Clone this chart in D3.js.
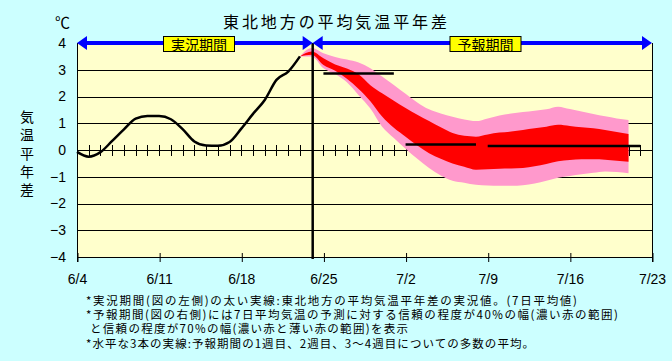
<!DOCTYPE html>
<html lang="ja">
<head>
<meta charset="UTF-8">
<title>東北地方の平均気温平年差</title>
<script src="https://d3js.org/d3.v7.min.js"></script>
<style>
  body { margin: 0; background: #ccffff; }
  text { font-family: "Noto Sans CJK JP", "Noto Sans", sans-serif; fill: #000; }
</style>
</head>
<body>
<svg id="chart" width="672" height="361"></svg>
<script>
// x: day index from 6/4 (0) to 7/23 (49)
const tickLabels = ["6/4", "6/11", "6/18", "6/25", "7/2", "7/9", "7/16", "7/23"];
const yTicks = [4, 3, 2, 1, 0, -1, -2, -3, -4];

// observed 7-day mean anomaly, 6/4 .. 6/23
const obsStart = 0;
const observed = [-0.07, -0.25, -0.08, 0.34, 0.77, 1.17, 1.27, 1.27, 1.15, 0.78,
  0.32, 0.17, 0.16, 0.3, 0.8, 1.35, 1.87, 2.62, 2.93, 3.5];

// forecast ranges, 6/23 .. 7/21
const bandStart = 19;
const hi70 = [3.5, 3.81, 3.62, 3.48, 3.38, 3.27, 3.06, 2.75, 2.43, 2.1, 1.78, 1.52, 1.36, 1.24, 1.14,
  1.08, 1.18, 1.29, 1.36, 1.42, 1.47, 1.52, 1.62, 1.53, 1.44, 1.35, 1.26, 1.18, 1.12];
const hi40 = [3.5, 3.68, 3.43, 3.2, 3.05, 2.83, 2.42, 2.12, 1.84, 1.57, 1.32, 1.08, 0.85, 0.64, 0.53,
  0.5, 0.58, 0.65, 0.69, 0.75, 0.81, 0.87, 0.94, 0.9, 0.85, 0.81, 0.75, 0.67, 0.6];
const lo40 = [3.5, 3.56, 3.18, 2.96, 2.66, 2.28, 1.82, 1.25, 0.83, 0.5, 0.17, -0.12, -0.33, -0.5, -0.63,
  -0.74, -0.72, -0.7, -0.69, -0.67, -0.61, -0.52, -0.42, -0.37, -0.35, -0.35, -0.36, -0.4, -0.44];
const lo70 = [3.5, 3.5, 3.06, 2.84, 2.53, 2.05, 1.55, 0.87, 0.45, 0.05, -0.33, -0.67, -0.95, -1.15, -1.22,
  -1.3, -1.33, -1.34, -1.34, -1.32, -1.25, -1.15, -1.04, -0.97, -0.91, -0.85, -0.8, -0.82, -0.87];

// ensemble means: week 1, week 2, weeks 3-4
const meanFrom = [21, 28, 35];
const meanTo = [27, 34, 48];
const meanVal = [2.86, 0.21, 0.15];

const splitDay = 20;
const periodLabels = ["実況期間", "予報期間"];
const notes = [
  "*実況期間(図の左側)の太い実線:東北地方の平均気温平年差の実況値。(7日平均値)",
  "*予報期間(図の右側)には7日平均気温の予測に対する信頼の程度が40%の幅(濃い赤の範囲)",
  "と信頼の程度が70%の幅(濃い赤と薄い赤の範囲)を表示",
  "*水平な3本の実線:予報期間の1週目、2週目、3～4週目についての多数の平均。"
];

const svg = d3.select("#chart");
const x = d3.scaleLinear().domain([0, 49]).range([77, 652]);
const y = d3.scaleLinear().domain([-4, 4]).range([257, 43]);

// plot background
svg.append("rect")
  .attr("x", x(0)).attr("y", y(4))
  .attr("width", x(49) - x(0)).attr("height", y(-4) - y(4))
  .attr("fill", "#ffffcc");

// horizontal grid
svg.append("g").selectAll("line")
  .data(yTicks.filter(d => d !== 4))
  .join("line")
  .attr("x1", x(0)).attr("x2", x(49))
  .attr("y1", d => Math.round(y(d)) + 0.5).attr("y2", d => Math.round(y(d)) + 0.5)
  .attr("stroke", "#000").attr("stroke-width", 1);

// daily ticks across zero line
svg.append("g").selectAll("line")
  .data(d3.range(1, 49))
  .join("line")
  .attr("x1", d => Math.round(x(d)) + 0.5).attr("x2", d => Math.round(x(d)) + 0.5)
  .attr("y1", y(0) - 5).attr("y2", y(0) + 6)
  .attr("stroke", "#000");

// bottom weekly ticks
const xAxis = svg.append("g")
  .attr("transform", `translate(0,${Math.round(y(-4)) - 4})`)
  .call(d3.axisBottom(x).tickValues(d3.range(0, 50, 7)).tickSize(9).tickFormat((d, i) => tickLabels[i]));
xAxis.select(".domain").remove();
xAxis.selectAll("line").attr("stroke", "#000").attr("transform", "translate(0.5,0)");
xAxis.selectAll("text")
  .attr("y", 31).attr("dy", 0)
  .style("font-size", "14px").style("font-family", "'Liberation Sans', sans-serif")
  .attr("fill", "#000");

// frame lines left/right
svg.append("line").attr("x1", x(0) + 0.5).attr("x2", x(0) + 0.5)
  .attr("y1", y(4)).attr("y2", y(-4) + 5).attr("stroke", "#000");
svg.append("line").attr("x1", x(49) + 0.5).attr("x2", x(49) + 0.5)
  .attr("y1", y(4)).attr("y2", y(-4) + 5).attr("stroke", "#000");

// y labels
const yAxis = svg.append("g")
  .attr("transform", `translate(${x(0)},0)`)
  .call(d3.axisLeft(y).tickValues(yTicks).tickSize(0).tickPadding(11)
    .tickFormat(d => d < 0 ? "\u2212" + Math.abs(d) : d));
yAxis.select(".domain").remove();
yAxis.selectAll("text")
  .style("font-size", "14px").style("font-family", "'Liberation Sans', sans-serif")
  .attr("fill", "#000");

// forecast bands
const bandDays = d3.range(bandStart, bandStart + hi70.length);
const area = (hi, lo) => d3.area()
  .x((d, i) => x(bandDays[i]))
  .y0((d, i) => y(lo[i]))
  .y1((d, i) => y(hi[i]))
  .curve(d3.curveMonotoneX);
svg.append("path").datum(hi70).attr("d", area(hi70, lo70)).attr("fill", "#ff99cc");
svg.append("path").datum(hi40).attr("d", area(hi40, lo40)).attr("fill", "#ff0000");

// observed line
svg.append("path")
  .datum(observed)
  .attr("d", d3.line().x((d, i) => x(obsStart + i)).y(d => y(d)).curve(d3.curveMonotoneX))
  .attr("fill", "none").attr("stroke", "#000").attr("stroke-width", 2.5);

// split line
svg.append("line")
  .attr("x1", x(splitDay) + 1).attr("x2", x(splitDay) + 1)
  .attr("y1", y(4)).attr("y2", y(-4) + 2)
  .attr("stroke", "#000").attr("stroke-width", 2.5);

// mean lines
svg.append("g").selectAll("line")
  .data(meanVal)
  .join("line")
  .attr("x1", (d, i) => x(meanFrom[i])).attr("x2", (d, i) => x(meanTo[i]))
  .attr("y1", d => y(d)).attr("y2", d => y(d))
  .attr("stroke", "#000").attr("stroke-width", 2.5);

// blue period arrows
const ay = y(4);
const blue = "#0000ff";
function arrow(x0, x1) {
  svg.append("line").attr("x1", x0 + 8).attr("x2", x1 - 8)
    .attr("y1", ay).attr("y2", ay).attr("stroke", blue).attr("stroke-width", 4);
  svg.append("path").attr("d", `M${x0},${ay}L${x0 + 10},${ay - 7}L${x0 + 10},${ay + 7}Z`).attr("fill", blue);
  svg.append("path").attr("d", `M${x1},${ay}L${x1 - 10},${ay - 7}L${x1 - 10},${ay + 7}Z`).attr("fill", blue);
}
const sx = x(splitDay) + 1;
arrow(x(0), sx);
arrow(sx, x(49));

// period labels
const labelCenters = [199, 485.5];
periodLabels.forEach((t, i) => {
  svg.append("rect")
    .attr("x", labelCenters[i] - 35.5).attr("y", 36.5)
    .attr("width", 71).attr("height", 15)
    .attr("fill", "#ffff00").attr("stroke", "#000");
  svg.append("text")
    .attr("x", labelCenters[i]).attr("y", 49.5)
    .attr("text-anchor", "middle")
    .style("font-size", "14px")
    .text(t);
});

// title and units
svg.append("text")
  .attr("x", 223).attr("y", 28)
  .attr("textLength", 224).attr("lengthAdjust", "spacing")
  .style("font-size", "16px").attr("fill", "#222")
  .text("東北地方の平均気温平年差");
svg.append("text")
  .attr("x", 55).attr("y", 28)
  .style("font-size", "15px")
  .text("℃");

// vertical y title
svg.append("g").selectAll("text")
  .data(Array.from("気温平年差"))
  .join("text")
  .attr("x", 27).attr("y", (d, i) => 122 + i * 18.3)
  .attr("text-anchor", "middle")
  .style("font-size", "14px")
  .text(d => d);

// notes
const noteX = [86, 86, 90, 86];
const noteY = [304.5, 319, 332.5, 347.5];
const noteW = [491, 532, 318, 448];
notes.forEach((t, i) => {
  svg.append("text")
    .attr("x", noteX[i]).attr("y", noteY[i])
    .attr("textLength", noteW[i]).attr("lengthAdjust", "spacing")
    .style("font-size", "11.5px")
    .text(t);
});
</script>
</body>
</html>
